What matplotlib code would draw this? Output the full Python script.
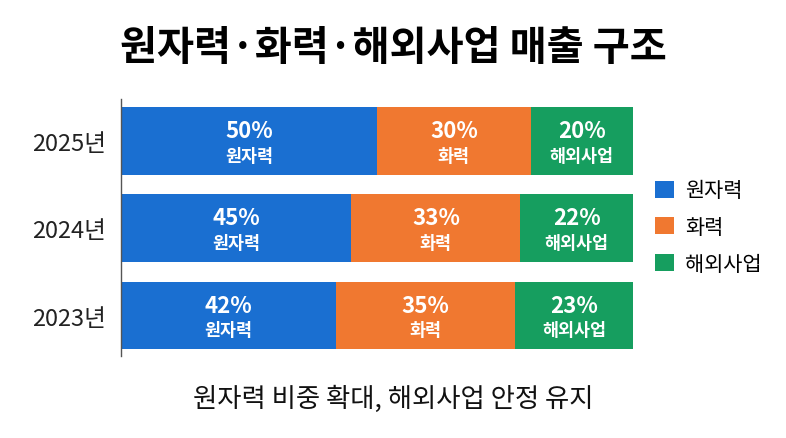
import matplotlib
matplotlib.use("Agg")
import matplotlib.pyplot as plt
from matplotlib.patches import Patch

plt.rcParams['font.family'] = ['Noto Sans CJK KR', 'DejaVu Sans']

years = ['2023년', '2024년', '2025년']
segments = ['원자력', '화력', '해외사업']
nuclear = [42, 45, 50]
thermal = [35, 33, 30]
overseas = [23, 22, 20]
colors = ['#1a6fd1', '#f07830', '#169e5f']
title = '원자력·화력·해외사업 매출 구조'
subtitle = '원자력 비중 확대, 해외사업 안정 유지'

fig = plt.figure(figsize=(7.86, 4.39), dpi=100)
ax = fig.add_axes([121/786, 1-357/439, (633-121)/786, (357-100)/439])

series = [nuclear, thermal, overseas]
ypos = list(range(len(years)))
left = [0]*len(years)
for name, vals, col in zip(segments, series, colors):
    ax.barh(ypos, vals, left=left, height=0.777, color=col, edgecolor='none')
    for y, l, v in zip(ypos, left, vals):
        cx = l + v/2
        ax.annotate(f'{v}%', (cx, y), xytext=(0, 7.6), textcoords='offset points',
                    ha='center', va='center', color='white', fontsize=16, fontweight='bold')
        ax.annotate(name, (cx, y), xytext=(0, -10.6), textcoords='offset points',
                    ha='center', va='center', color='white', fontsize=12.5, fontweight='bold')
    left = [a+b for a, b in zip(left, vals)]

ax.set_xlim(0, 100)
ax.set_ylim(-0.463, 2.48)
ax.set_yticks(ypos)
ax.set_yticklabels(years, fontsize=17, color='#222222')
ax.tick_params(axis='y', length=0, pad=11)
ax.set_xticks([])
for s in ['top', 'right', 'bottom']:
    ax.spines[s].set_visible(False)
ax.spines['left'].set_color('#555555')
ax.spines['left'].set_linewidth(1.0)

handles = [Patch(facecolor=c, edgecolor='none', label=s) for s, c in zip(segments, colors)]
fig.legend(handles=handles, loc='center left', bbox_to_anchor=(636/786, 1-228/439),
           frameon=False, fontsize=15, handlelength=0.9, handleheight=0.9,
           handletextpad=0.55, labelspacing=0.7)

fig.text(0.5, 1-48/439, title, ha='center', va='center', fontsize=29, fontweight='black', color='black')
fig.text(0.5, 1-399/439, subtitle, ha='center', va='center', fontsize=19, color='#111111')

fig.savefig('out.png', dpi=100, facecolor='white')
